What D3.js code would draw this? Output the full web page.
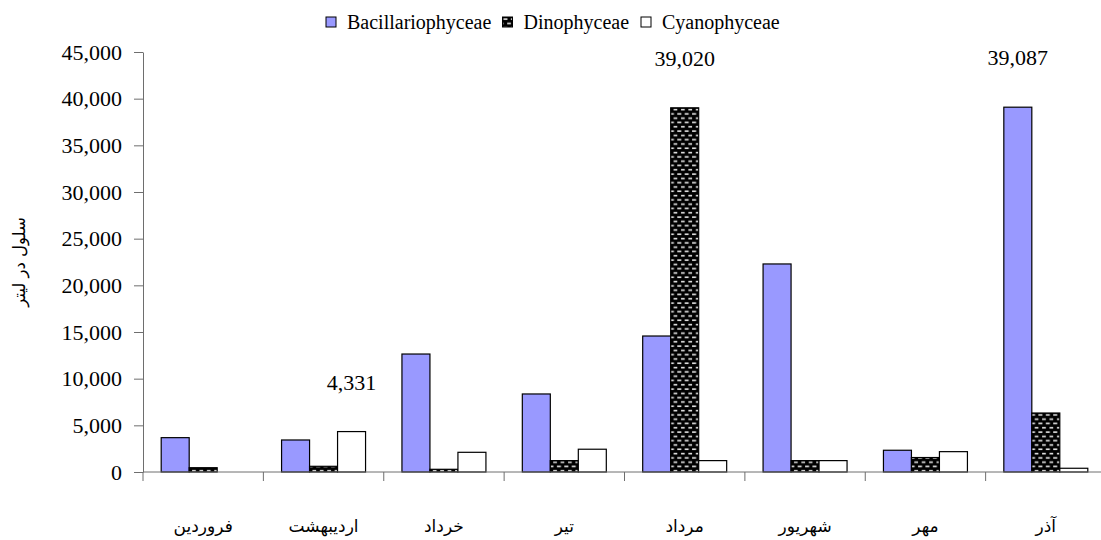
<!DOCTYPE html>
<html>
<head>
<meta charset="utf-8">
<script src="https://cdn.jsdelivr.net/npm/d3@7"></script>
<style>
  body { margin: 0; background: #fff; }
  svg { display: block; }
</style>
</head>
<body>
<div id="chart"></div>
<script>
// months (Persian calendar), left to right
const months = ['فروردین', 'اردیبهشت', 'خرداد', 'تیر', 'مرداد', 'شهریور', 'مهر', 'آذر'];
const seriesNames = ['Bacillariophyceae', 'Dinophyceae', 'Cyanophyceae'];

// cells per litre
const bacillariophyceae = [3680, 3430, 12640, 8360, 14570, 22290, 2330, 39087];
const dinophyceae = [460, 610, 290, 1220, 39020, 1220, 1550, 6320];
const cyanophyceae = [0, 4331, 2110, 2440, 1220, 1220, 2180, 400];

const yTicks = [0, 5000, 10000, 15000, 20000, 25000, 30000, 35000, 40000, 45000];
const yTitle = 'سلول در لیتر';

// which bars get a value label: [month index, series index]
const labelled = [[1, 2], [4, 1], [7, 0]];

const width = 1101, height = 540;
const margin = { top: 52, left: 143, bottom: 68 };
const plotRight = 1106;

const svg = d3.select('#chart').append('svg')
    .attr('width', width)
    .attr('height', height);

// dinophyceae fill: black with small light dashes
const defs = svg.append('defs');
const pat = defs.append('pattern')
    .attr('id', 'dino')
    .attr('patternUnits', 'userSpaceOnUse')
    .attr('width', 7.4)
    .attr('height', 8.6);
pat.append('rect').attr('width', 7.4).attr('height', 8.6).attr('fill', '#000');
pat.append('rect').attr('x', 1).attr('y', 1.3).attr('width', 4).attr('height', 1.6).attr('fill', '#e6e6e6');
pat.append('rect').attr('x', 4.7).attr('y', 5.6).attr('width', 4).attr('height', 1.6).attr('fill', '#e6e6e6');
pat.append('rect').attr('x', -3).attr('y', 5.6).attr('width', 4).attr('height', 1.6).attr('fill', '#e6e6e6');

const fills = ['#9999ff', 'url(#dino)', '#ffffff'];
const values = [bacillariophyceae, dinophyceae, cyanophyceae];

const y = d3.scaleLinear()
    .domain([0, 45000])
    .range([height - margin.bottom, margin.top]);

const x = d3.scaleBand()
    .domain(months)
    .range([margin.left, plotRight])
    .padding(0);

const xSeries = d3.scaleBand()
    .domain(seriesNames)
    .range([0, x.bandwidth()])
    .paddingInner(0)
    .paddingOuter(0.65);

const numFont = '"Liberation Serif", "Times New Roman", serif';
const faFont = '"DejaVu Sans", sans-serif';

// y axis
const yAxis = d3.axisLeft(y)
    .tickValues(yTicks)
    .tickFormat(d3.format(','))
    .tickSize(9)
    .tickSizeOuter(0)
    .tickPadding(12);

const yG = svg.append('g')
    .attr('transform', 'translate(' + margin.left + ',0)')
    .call(yAxis);
yG.select('.domain').attr('stroke', '#6e6e6e');
yG.selectAll('.tick line').attr('stroke', '#6e6e6e');
yG.selectAll('.tick text')
    .attr('fill', '#000')
    .style('font-family', numFont)
    .style('font-size', '22px');

// y title
svg.append('text')
    .attr('transform', 'translate(25,' + y(22500) + ') rotate(-90)')
    .attr('text-anchor', 'middle')
    .attr('direction', 'rtl')
    .style('font-family', faFont)
    .style('font-size', '16.5px')
    .text(yTitle);

// bars
const groups = svg.append('g').selectAll('g')
    .data(months)
    .join('g')
    .attr('transform', d => 'translate(' + x(d) + ',0)');

groups.selectAll('rect')
    .data((m, i) => seriesNames.map((s, j) => ({ s, j, v: values[j][i] })))
    .join('rect')
    .attr('x', d => xSeries(d.s))
    .attr('y', d => y(d.v))
    .attr('width', xSeries.bandwidth())
    .attr('height', d => y(0) - y(d.v))
    .attr('fill', d => fills[d.j])
    .attr('stroke', '#000')
    .attr('stroke-width', 1.2);

// x axis line and boundary ticks
const xG = svg.append('g');
xG.append('line')
    .attr('x1', margin.left).attr('x2', plotRight)
    .attr('y1', y(0)).attr('y2', y(0))
    .attr('stroke', '#6e6e6e');
xG.selectAll('line.tick')
    .data(months)
    .join('line')
    .attr('class', 'tick')
    .attr('x1', d => x(d)).attr('x2', d => x(d))
    .attr('y1', y(0)).attr('y2', y(0) + 9)
    .attr('stroke', '#6e6e6e');
xG.selectAll('text')
    .data(months)
    .join('text')
    .attr('x', d => x(d) + x.bandwidth() / 2)
    .attr('y', 532)
    .attr('text-anchor', 'middle')
    .attr('direction', 'rtl')
    .style('font-family', faFont)
    .style('font-size', '17px')
    .text(d => d);

// value labels
svg.append('g').selectAll('text')
    .data(labelled)
    .join('text')
    .attr('x', d => x(months[d[0]]) + xSeries(seriesNames[d[1]]) + xSeries.bandwidth() / 2)
    .attr('y', d => y(values[d[1]][d[0]]) - 42)
    .attr('text-anchor', 'middle')
    .style('font-family', numFont)
    .style('font-size', '22px')
    .text(d => d3.format(',')(values[d[1]][d[0]]));

// legend
const legendX = [326, 502.5, 641];
const legend = svg.append('g').selectAll('g')
    .data(seriesNames)
    .join('g')
    .attr('transform', (d, i) => 'translate(' + legendX[i] + ',17)');
legend.append('rect')
    .attr('width', 10).attr('height', 10)
    .attr('fill', (d, i) => fills[i])
    .attr('stroke', '#000');
legend.append('text')
    .attr('x', 21)
    .attr('y', 12)
    .style('font-family', numFont)
    .style('font-size', '20px')
    .text(d => d);
</script>
</body>
</html>
